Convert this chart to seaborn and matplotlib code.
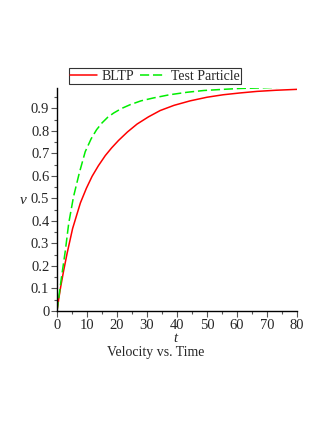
import numpy as np
import pandas as pd
import matplotlib
matplotlib.use("Agg")
import matplotlib.pyplot as plt
from matplotlib.lines import Line2D
import seaborn as sns

# Values
t_bltp = [0, 0.6, 1.2, 2.2, 3.4, 5.2, 7.8, 9.8, 11.7, 13.8, 16.1, 18.2, 20.5, 23.5, 26.7,
          30.5, 34.4, 39.0, 44.4, 50.0, 55.4, 61.0, 66.7, 73.0, 80]
v_bltp = [0, 0.055, 0.105, 0.178, 0.258, 0.366, 0.48, 0.545, 0.598, 0.645, 0.69, 0.724,
          0.757, 0.795, 0.83, 0.862, 0.89, 0.913, 0.933, 0.949, 0.960, 0.968, 0.975,
          0.980, 0.984]

t_test = [0, 0.7, 1.4, 2.1, 2.8, 3.9, 5.5, 7.4, 9.4, 11.4, 13.2, 15.0, 16.9, 18.9, 21.5,
          24.4, 28.0, 32.2, 37.5, 43.3, 49.0, 55.4, 61.0, 66.7, 73.0, 80]
v_test = [0, 0.07, 0.14, 0.205, 0.27, 0.389, 0.507, 0.611, 0.707, 0.765, 0.805, 0.835,
          0.860, 0.879, 0.899, 0.916, 0.933, 0.946, 0.960, 0.971, 0.979, 0.984, 0.988,
          0.990, 0.993, 0.995]

series_names = ["BLTP", "Test Particle"]
x_ticks = [0, 10, 20, 30, 40, 50, 60, 70, 80]
y_ticks = [0, 0.1, 0.2, 0.3, 0.4, 0.5, 0.6, 0.7, 0.8, 0.9]

df = pd.concat([
    pd.DataFrame({"t": t_bltp, "v": v_bltp, "series": series_names[0]}),
    pd.DataFrame({"t": t_test, "v": v_test, "series": series_names[1]}),
])

sns.set_theme(style="ticks")
plt.rcParams["font.family"] = ["Liberation Serif", "DejaVu Serif"]

W, H = 327, 423
fig = plt.figure(figsize=(W / 100, H / 100), dpi=100)
left, right, bottom, top = 57, 297, 311, 88
ax = fig.add_axes([left / W, 1 - bottom / H, (right - left) / W, (bottom - top) / H])

sns.lineplot(data=df, x="t", y="v", hue="series", style="series",
             palette={"BLTP": "#ff0000", "Test Particle": "#00ee00"},
             dashes={"BLTP": "", "Test Particle": (6, 2.5)},
             linewidth=1.1, ax=ax, legend=False, sort=True, estimator=None)

ax.set_xlim(0, 80)
ax.set_ylim(0, 0.99)
ax.set_xticks(x_ticks)
ax.set_xticklabels([str(x) for x in x_ticks])
ax.set_yticks(y_ticks)
ax.set_yticklabels(["0"] + [f"{y:.1f}" for y in y_ticks[1:]])
ax.set_xticks(np.arange(5, 80, 10), minor=True)
ax.set_yticks(np.arange(0.05, 0.99, 0.1), minor=True)
ax.tick_params(axis="both", which="major", labelsize=10.5, length=4, width=0.8,
               color="#555555", pad=1.5)
ax.tick_params(axis="both", which="minor", length=2, width=0.8, color="#555555")
ax.spines["top"].set_visible(False)
ax.spines["right"].set_visible(False)
for s in ("left", "bottom"):
    ax.spines[s].set_linewidth(1.0)
    ax.spines[s].set_color("black")
ax.set_xlabel("")
ax.set_ylabel("")

fig.text(23 / W, 1 - 200 / H, "v", fontsize=11, style="italic", ha="center", va="center")
fig.text(175 / W, 1 - 338 / H, "t", fontsize=10.5, style="italic", ha="center", va="center")
fig.text(156 / W, 1 - 352 / H, "Velocity vs. Time", fontsize=10, ha="center", va="center")

handles = [Line2D([], [], color="#ff0000", lw=1.1),
           Line2D([], [], color="#00ee00", lw=1.1, dashes=(6, 2.5))]
leg = fig.legend(handles, series_names, loc="center", bbox_to_anchor=(155 / W, 1 - 76 / H),
                 ncol=2, fontsize=10, frameon=True, fancybox=False, handlelength=1.9,
                 handletextpad=0.35, columnspacing=0.4, borderpad=0.1, borderaxespad=0)
leg.get_frame().set_edgecolor("black")
leg.get_frame().set_linewidth(0.8)

fig.savefig("out.png", dpi=100)
